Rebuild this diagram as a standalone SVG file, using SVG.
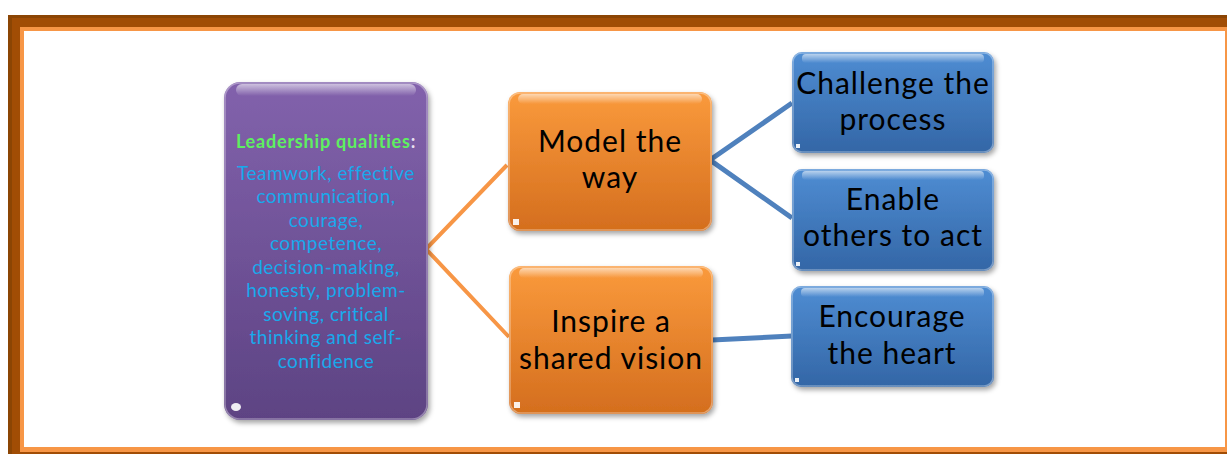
<svg xmlns="http://www.w3.org/2000/svg" width="1227" height="454" viewBox="0 0 1227 454">
<defs>
<linearGradient id="gPurple" x1="0" y1="0" x2="0" y2="1"><stop offset="0" stop-color="#8262AC"/><stop offset="1" stop-color="#5D4383"/></linearGradient>
<linearGradient id="gOrange" x1="0" y1="0" x2="0" y2="1"><stop offset="0" stop-color="#FA9A3C"/><stop offset="1" stop-color="#D46E1E"/></linearGradient>
<linearGradient id="gBlue" x1="0" y1="0" x2="0" y2="1"><stop offset="0" stop-color="#4F8DD3"/><stop offset="1" stop-color="#3366A6"/></linearGradient>
<linearGradient id="gHi" x1="0" y1="0" x2="0" y2="1"><stop offset="0" stop-color="#FFFFFF" stop-opacity="0.6"/><stop offset="1" stop-color="#FFFFFF" stop-opacity="0"/></linearGradient>
<filter id="sh" x="-10%" y="-10%" width="125%" height="125%"><feDropShadow dx="2" dy="3" stdDeviation="2.5" flood-color="#000" flood-opacity="0.35"/></filter>
</defs>
<style>
.t{font-family:Lato,"Open Sans","Liberation Sans",sans-serif;text-anchor:middle;fill:#000;font-size:30px;letter-spacing:1px}
.b{font-family:Lato,"Open Sans","Liberation Sans",sans-serif;text-anchor:middle;fill:#18A9EC;font-size:19px;letter-spacing:0.5px}
.h{font-family:Lato,"Open Sans","Liberation Sans",sans-serif;text-anchor:middle;font-weight:bold;font-size:18px;fill:#5EF060;letter-spacing:0.8px}
.hi{fill:url(#gHi)}
.dot{fill:#FFFFFF;opacity:0.9}
.edge{stroke:rgba(255,255,255,0.35);stroke-width:1.5;fill:none}
</style>
<g id="frame">
<rect x="8" y="15" width="1219" height="439" fill="#A14D05"/>
<rect x="8" y="15" width="1219" height="3" fill="#8B4504"/>
<rect x="8" y="15" width="4" height="439" fill="#8B4504"/>
<rect x="20" y="27" width="1207" height="425" fill="#F79646"/>
<rect x="24" y="31" width="1201" height="416" fill="#FFFFFF"/>
</g>
<g id="connectors" fill="none" stroke-linecap="butt">
<polyline points="507,165 426,249 509,337" stroke="#F79646" stroke-width="4"/>
<polyline points="792,103 710,160 792,218" stroke="#4F81BD" stroke-width="5"/>
<line x1="712" y1="340" x2="792" y2="336" stroke="#4F81BD" stroke-width="5"/>
</g>
<g id="n-leadership">
<rect x="224" y="82" width="204" height="338" rx="16" fill="url(#gPurple)" filter="url(#sh)"/>
<rect x="225" y="83" width="202" height="336" rx="15" class="edge"/>
<rect x="236" y="84" width="180" height="12" rx="6" class="hi"/>
<ellipse cx="236" cy="407" rx="5" ry="4" class="dot"/>
<text class="h" x="326" y="148">Leadership qualities<tspan fill="#E8E0F0">:</tspan></text>
<text class="b" x="326" y="179.5">Teamwork, effective</text>
<text class="b" x="326" y="203">communication,</text>
<text class="b" x="326" y="226.5">courage,</text>
<text class="b" x="326" y="250">competence,</text>
<text class="b" x="326" y="273.5">decision-making,</text>
<text class="b" x="326" y="297">honesty, problem-</text>
<text class="b" x="326" y="320.5">soving, critical</text>
<text class="b" x="326" y="344">thinking and self-</text>
<text class="b" x="326" y="367.5">confidence</text>
</g>
<g id="n-model">
<rect x="508" y="92" width="204" height="139" rx="12" fill="url(#gOrange)" filter="url(#sh)"/>
<rect x="509" y="93" width="202" height="137" rx="11" class="edge"/>
<rect x="518" y="94" width="184" height="10" rx="5" class="hi"/>
<rect x="513" y="219" width="6" height="6" class="dot"/>
<text class="t" x="610" y="152">Model the</text>
<text class="t" x="610" y="188">way</text>
</g>
<g id="n-inspire">
<rect x="509" y="266" width="204" height="148" rx="12" fill="url(#gOrange)" filter="url(#sh)"/>
<rect x="510" y="267" width="202" height="146" rx="11" class="edge"/>
<rect x="519" y="268" width="184" height="10" rx="5" class="hi"/>
<rect x="514" y="402" width="6" height="6" class="dot"/>
<text class="t" x="611" y="332">Inspire a</text>
<text class="t" x="611" y="369">shared vision</text>
</g>
<g id="n-challenge">
<rect x="792" y="52" width="202" height="101" rx="10" fill="url(#gBlue)" filter="url(#sh)"/>
<rect x="793" y="53" width="200" height="99" rx="9" class="edge"/>
<rect x="802" y="54" width="182" height="9" rx="4" class="hi"/>
<rect x="796" y="144" width="4" height="4" class="dot"/>
<text class="t" x="893" y="94">Challenge the</text>
<text class="t" x="893" y="130">process</text>
</g>
<g id="n-enable">
<rect x="792" y="169" width="202" height="102" rx="10" fill="url(#gBlue)" filter="url(#sh)"/>
<rect x="793" y="170" width="200" height="100" rx="9" class="edge"/>
<rect x="802" y="171" width="182" height="9" rx="4" class="hi"/>
<rect x="796" y="262" width="4" height="4" class="dot"/>
<text class="t" x="893" y="210">Enable</text>
<text class="t" x="893" y="246">others to act</text>
</g>
<g id="n-encourage">
<rect x="791" y="286" width="203" height="101" rx="10" fill="url(#gBlue)" filter="url(#sh)"/>
<rect x="792" y="287" width="201" height="99" rx="9" class="edge"/>
<rect x="801" y="288" width="183" height="9" rx="4" class="hi"/>
<rect x="795" y="378" width="4" height="4" class="dot"/>
<text class="t" x="892" y="327">Encourage</text>
<text class="t" x="892" y="364">the heart</text>
</g>
</svg>
